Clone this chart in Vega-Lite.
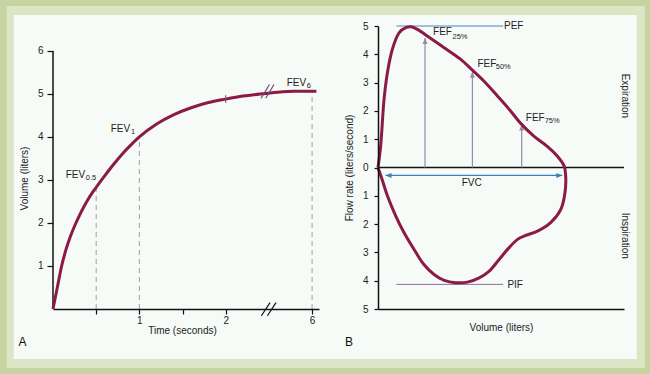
{
  "$schema": "https://vega.github.io/schema/vega-lite/v6.json",
  "background": "#c6d4a2",
  "padding": 6,
  "autosize": {"type": "pad"},
  "spacing": 59,
  "bounds": "flush",
  "config": {
    "view": {"stroke": null},
    "font": "Liberation Sans",
    "axis": {
      "grid": false,
      "domainColor": "#111",
      "tickColor": "#111",
      "domainWidth": 1.5,
      "tickWidth": 1.2,
      "labelFontSize": 10,
      "titleFontSize": 10,
      "titleFontWeight": "normal",
      "labelColor": "#222",
      "titleColor": "#222",
      "labelFlush": false
    }
  },
  "datasets": {
    "frameOuter": [{"x1": -0.536, "x2": 6.852, "y1": -1.372, "y2": 7.045}],
    "frameInner": [{"x1": -0.455, "x2": 6.759, "y1": -1.163, "y2": 6.836}],
    "fev": [
      {"t": 0, "v": 0}, {"t": 0.05, "v": 0.5}, {"t": 0.1, "v": 1.0}, {"t": 0.15, "v": 1.38},
      {"t": 0.2, "v": 1.68}, {"t": 0.25, "v": 1.93}, {"t": 0.3, "v": 2.15}, {"t": 0.35, "v": 2.35},
      {"t": 0.4, "v": 2.53}, {"t": 0.45, "v": 2.69}, {"t": 0.5, "v": 2.83}, {"t": 0.6, "v": 3.1},
      {"t": 0.7, "v": 3.36}, {"t": 0.8, "v": 3.6}, {"t": 0.9, "v": 3.81}, {"t": 1.0, "v": 4.0},
      {"t": 1.2, "v": 4.3}, {"t": 1.4, "v": 4.52}, {"t": 1.6, "v": 4.68}, {"t": 1.8, "v": 4.8},
      {"t": 2.0, "v": 4.88}, {"t": 2.2, "v": 4.95}, {"t": 2.4, "v": 5.0}, {"t": 2.6, "v": 5.04},
      {"t": 2.8, "v": 5.06}, {"t": 3.0, "v": 5.06}, {"t": 3.05, "v": 5.06}
    ],
    "fevDash": [{"t": 0.5, "v": 2.83, "v0": 0}, {"t": 1, "v": 4.0, "v0": 0}, {"t": 3.0, "v": 5.06, "v0": 0}],
    "yAxisA": [{"x": 0, "y1": 0, "y2": 6}],
    "breakAxis": [
      {"x1": 2.413, "x2": 2.513, "y1": -0.156, "y2": 0.147},
      {"x1": 2.483, "x2": 2.582, "y1": -0.156, "y2": 0.147}
    ],
    "breakCurve": [
      {"x1": 2.409, "x2": 2.506, "y1": 4.9, "y2": 5.22},
      {"x1": 2.463, "x2": 2.559, "y1": 4.9, "y2": 5.22}
    ],
    "tickCurve": [{"x": 2, "y1": 4.79, "y2": 4.97}],
    "fevLab": [
      {"t": 0.147, "v": 3.12, "s": "FEV"},
      {"t": 0.668, "v": 4.19, "s": "FEV"},
      {"t": 2.706, "v": 5.25, "s": "FEV"}
    ],
    "fevSub": [
      {"t": 0.379, "v": 3.05, "s": "0.5"},
      {"t": 0.903, "v": 4.12, "s": "1"},
      {"t": 2.938, "v": 5.18, "s": "6"}
    ],
    "panelA": [{"t": -0.354, "v": -0.76, "s": "A"}],
    "loop": [
      {"i": 0, "x": 0, "y": 0}, {"i": 1, "x": 0.07, "y": 0.75}, {"i": 2, "x": 0.16, "y": 2.4},
      {"i": 3, "x": 0.25, "y": 3.35}, {"i": 4, "x": 0.38, "y": 4.17}, {"i": 5, "x": 0.56, "y": 4.76},
      {"i": 6, "x": 0.74, "y": 4.94}, {"i": 7, "x": 0.88, "y": 4.97}, {"i": 8, "x": 1.05, "y": 4.88},
      {"i": 9, "x": 1.25, "y": 4.7}, {"i": 10, "x": 1.58, "y": 4.4}, {"i": 11, "x": 2.02, "y": 3.99},
      {"i": 12, "x": 2.2, "y": 3.82}, {"i": 13, "x": 2.51, "y": 3.44}, {"i": 14, "x": 2.82, "y": 3.05},
      {"i": 15, "x": 3.18, "y": 2.52}, {"i": 16, "x": 3.53, "y": 1.99}, {"i": 17, "x": 3.8, "y": 1.55},
      {"i": 18, "x": 4.15, "y": 1.1}, {"i": 19, "x": 4.5, "y": 0.75}, {"i": 20, "x": 4.77, "y": 0.4},
      {"i": 21, "x": 4.95, "y": 0.05}, {"i": 22, "x": 4.99, "y": -0.3}, {"i": 23, "x": 4.97, "y": -0.9},
      {"i": 24, "x": 4.86, "y": -1.48}, {"i": 25, "x": 4.59, "y": -1.95}, {"i": 26, "x": 4.24, "y": -2.25},
      {"i": 27, "x": 3.93, "y": -2.4}, {"i": 28, "x": 3.71, "y": -2.54}, {"i": 29, "x": 3.48, "y": -2.84},
      {"i": 30, "x": 3.22, "y": -3.25}, {"i": 31, "x": 2.95, "y": -3.67}, {"i": 32, "x": 2.69, "y": -3.9},
      {"i": 33, "x": 2.38, "y": -4.05}, {"i": 34, "x": 2.07, "y": -4.07}, {"i": 35, "x": 1.76, "y": -3.99},
      {"i": 36, "x": 1.49, "y": -3.78}, {"i": 37, "x": 1.22, "y": -3.43}, {"i": 38, "x": 0.96, "y": -2.9},
      {"i": 39, "x": 0.69, "y": -2.3}, {"i": 40, "x": 0.47, "y": -1.71}, {"i": 41, "x": 0.25, "y": -1.0},
      {"i": 42, "x": 0.12, "y": -0.47}, {"i": 43, "x": 0, "y": 0}
    ],
    "pef": [{"x1": 0.49, "x2": 3.33, "y": 5.0}],
    "pif": [{"x1": 0.49, "x2": 3.33, "y": -4.13}],
    "zero": [{"x1": 0, "x2": 6.54, "y": 0}],
    "fefArrows": [{"x": 1.25, "y": 4.58, "y0": 0}, {"x": 2.51, "y": 3.38, "y0": 0}, {"x": 3.82, "y": 1.52, "y0": 0}],
    "fvc": [{"x1": 0.2, "x2": 4.9, "y": -0.28}],
    "fvcHeadL": [{"x": 0.2, "y": -0.28}],
    "fvcHeadR": [{"x": 4.9, "y": -0.28}],
    "bLab": [
      {"x": 3.35, "y": 5.0, "s": "PEF"}, {"x": 3.44, "y": -4.15, "s": "PIF"},
      {"x": 1.463, "y": 4.78, "s": "FEF"}, {"x": 2.644, "y": 3.66, "s": "FEF"}, {"x": 3.93, "y": 1.76, "s": "FEF"}
    ],
    "bSub": [
      {"x": 1.98, "y": 4.6, "s": "25%"}, {"x": 3.13, "y": 3.54, "s": "50%"}, {"x": 4.43, "y": 1.64, "s": "75%"}
    ],
    "bCenter": [{"x": 2.49, "y": -0.56, "s": "FVC"}],
    "bSide": [{"x": 6.56, "y": 2.53, "s": "Expiration"}, {"x": 6.56, "y": -2.41, "s": "Inspiration"}],
    "panelB": [{"x": -0.771, "y": -6.15, "s": "B"}]
  },
  "hconcat": [
    {
      "width": 266,
      "height": 283,
      "layer": [
        {
          "data": {"name": "frameOuter"},
          "mark": {"type": "rect", "color": "#dce6c4"},
          "encoding": {
            "x": {"field": "x1", "type": "quantitative",
              "scale": {"domain": [0, 3.08], "nice": false, "zero": false},
              "axis": {"values": [0.5, 1, 1.5, 2, 3], "zindex": 1,
                "labelExpr": "datum.value == 1 ? '1' : datum.value == 2 ? '2' : datum.value == 3 ? '6' : ''",
                "title": "Time (seconds)", "titleX": 129, "tickSize": 5, "labelPadding": 1, "titlePadding": 0}},
            "x2": {"field": "x2"},
            "y": {"field": "y1", "type": "quantitative",
              "scale": {"domain": [0, 6.58], "nice": false, "zero": false},
              "axis": {"values": [1, 2, 3, 4, 5, 6], "format": "d", "zindex": 1, "domain": false, "title": "Volume (liters)",
                "titleY": 152, "tickSize": 6, "labelPadding": 4, "titlePadding": 8}},
            "y2": {"field": "y2"}
          }
        },
        {
          "data": {"name": "frameInner"},
          "mark": {"type": "rect", "color": "#f6fbf8"},
          "encoding": {
            "x": {"field": "x1", "type": "quantitative"},
            "x2": {"field": "x2"},
            "y": {"field": "y1", "type": "quantitative"},
            "y2": {"field": "y2"}
          }
        },
        {
          "data": {"name": "yAxisA"},
          "mark": {"type": "rule", "color": "#111", "strokeWidth": 1.5},
          "encoding": {
            "x": {"field": "x", "type": "quantitative"},
            "y": {"field": "y1", "type": "quantitative"},
            "y2": {"field": "y2"}
          }
        },
        {
          "data": {"name": "fevDash"},
          "mark": {"type": "rule", "color": "#a89aa2", "strokeWidth": 1, "strokeDash": [5, 4]},
          "encoding": {
            "x": {"field": "t", "type": "quantitative"},
            "y": {"field": "v0", "type": "quantitative"},
            "y2": {"field": "v"}
          }
        },
        {
          "data": {"name": "fev"},
          "mark": {"type": "line", "color": "#8b1a46", "strokeWidth": 3, "interpolate": "monotone"},
          "encoding": {
            "x": {"field": "t", "type": "quantitative"},
            "y": {"field": "v", "type": "quantitative"}
          }
        },
        {
          "data": {"name": "tickCurve"},
          "mark": {"type": "rule", "color": "#6a4a7e", "strokeWidth": 1},
          "encoding": {
            "x": {"field": "x", "type": "quantitative"},
            "y": {"field": "y1", "type": "quantitative"},
            "y2": {"field": "y2"}
          }
        },
        {
          "data": {"name": "breakCurve"},
          "mark": {"type": "rule", "color": "#6a4a7e", "strokeWidth": 1.2},
          "encoding": {
            "x": {"field": "x1", "type": "quantitative"},
            "x2": {"field": "x2"},
            "y": {"field": "y1", "type": "quantitative"},
            "y2": {"field": "y2"}
          }
        },
        {
          "data": {"name": "breakAxis"},
          "mark": {"type": "rule", "color": "#111", "strokeWidth": 1.2},
          "encoding": {
            "x": {"field": "x1", "type": "quantitative"},
            "x2": {"field": "x2"},
            "y": {"field": "y1", "type": "quantitative"},
            "y2": {"field": "y2"}
          }
        },
        {
          "data": {"name": "fevLab"},
          "mark": {"type": "text", "align": "left", "baseline": "middle", "fontSize": 10, "color": "#222"},
          "encoding": {
            "x": {"field": "t", "type": "quantitative"},
            "y": {"field": "v", "type": "quantitative"},
            "text": {"field": "s"}
          }
        },
        {
          "data": {"name": "fevSub"},
          "mark": {"type": "text", "align": "left", "baseline": "middle", "fontSize": 7.5, "color": "#222"},
          "encoding": {
            "x": {"field": "t", "type": "quantitative"},
            "y": {"field": "v", "type": "quantitative"},
            "text": {"field": "s"}
          }
        },
        {
          "data": {"name": "panelA"},
          "mark": {"type": "text", "align": "center", "baseline": "middle", "fontSize": 12, "color": "#111"},
          "encoding": {
            "x": {"field": "t", "type": "quantitative"},
            "y": {"field": "v", "type": "quantitative"},
            "text": {"field": "s"}
          }
        }
      ]
    },
    {
      "width": 246,
      "height": 283,
      "layer": [
        {
          "data": {"name": "zero"},
          "mark": {"type": "rule", "color": "#111", "strokeWidth": 1.5},
          "encoding": {
            "x": {"field": "x1", "type": "quantitative",
              "scale": {"domain": [0, 6.54], "nice": false, "zero": false},
              "axis": {"ticks": false, "labels": false, "title": "Volume (liters)", "titlePadding": 13, "zindex": 1}},
            "x2": {"field": "x2"},
            "y": {"field": "y", "type": "quantitative",
              "scale": {"domain": [-5, 5], "nice": false, "zero": false},
              "axis": {"values": [-5, -4, -3, -2, -1, 0, 1, 2, 3, 4, 5], "tickCount": 12, "format": "d",
                "labelExpr": "replace(datum.label, '−', '')",
                "labelOverlap": false, "zindex": 1,
                "title": "Flow rate (liters/second)", "tickSize": 4, "labelPadding": 6, "titlePadding": 8}}
          }
        },
        {
          "data": {"name": "pef"},
          "mark": {"type": "rule", "color": "#4f87b5", "strokeWidth": 1},
          "encoding": {
            "x": {"field": "x1", "type": "quantitative"},
            "x2": {"field": "x2"},
            "y": {"field": "y", "type": "quantitative"}
          }
        },
        {
          "data": {"name": "pif"},
          "mark": {"type": "rule", "color": "#8e6f9e", "strokeWidth": 1},
          "encoding": {
            "x": {"field": "x1", "type": "quantitative"},
            "x2": {"field": "x2"},
            "y": {"field": "y", "type": "quantitative"}
          }
        },
        {
          "data": {"name": "fefArrows"},
          "mark": {"type": "rule", "color": "#9a88a6", "strokeWidth": 1.2},
          "encoding": {
            "x": {"field": "x", "type": "quantitative"},
            "y": {"field": "y0", "type": "quantitative"},
            "y2": {"field": "y"}
          }
        },
        {
          "data": {"name": "fefArrows"},
          "mark": {"type": "point", "shape": "M0,0L-1,2.4L1,2.4Z", "filled": true, "size": 25, "color": "#9a88a6", "opacity": 1},
          "encoding": {
            "x": {"field": "x", "type": "quantitative"},
            "y": {"field": "y", "type": "quantitative"}
          }
        },
        {
          "data": {"name": "fvc"},
          "mark": {"type": "rule", "color": "#3f7db6", "strokeWidth": 1.2},
          "encoding": {
            "x": {"field": "x1", "type": "quantitative"},
            "x2": {"field": "x2"},
            "y": {"field": "y", "type": "quantitative"}
          }
        },
        {
          "data": {"name": "fvcHeadL"},
          "mark": {"type": "point", "shape": "M0,0L2.4,-1L2.4,1Z", "filled": true, "size": 25, "color": "#3f7db6", "opacity": 1},
          "encoding": {
            "x": {"field": "x", "type": "quantitative"},
            "y": {"field": "y", "type": "quantitative"}
          }
        },
        {
          "data": {"name": "fvcHeadR"},
          "mark": {"type": "point", "shape": "M0,0L-2.4,-1L-2.4,1Z", "filled": true, "size": 25, "color": "#3f7db6", "opacity": 1},
          "encoding": {
            "x": {"field": "x", "type": "quantitative"},
            "y": {"field": "y", "type": "quantitative"}
          }
        },
        {
          "data": {"name": "loop"},
          "mark": {"type": "line", "color": "#8b1a46", "strokeWidth": 3, "interpolate": "catmull-rom"},
          "encoding": {
            "x": {"field": "x", "type": "quantitative"},
            "y": {"field": "y", "type": "quantitative"},
            "order": {"field": "i", "type": "quantitative"}
          }
        },
        {
          "data": {"name": "bLab"},
          "mark": {"type": "text", "align": "left", "baseline": "middle", "fontSize": 10, "color": "#222"},
          "encoding": {
            "x": {"field": "x", "type": "quantitative"},
            "y": {"field": "y", "type": "quantitative"},
            "text": {"field": "s"}
          }
        },
        {
          "data": {"name": "bSub"},
          "mark": {"type": "text", "align": "left", "baseline": "middle", "fontSize": 7.5, "color": "#222"},
          "encoding": {
            "x": {"field": "x", "type": "quantitative"},
            "y": {"field": "y", "type": "quantitative"},
            "text": {"field": "s"}
          }
        },
        {
          "data": {"name": "bCenter"},
          "mark": {"type": "text", "align": "center", "baseline": "middle", "fontSize": 10, "color": "#222"},
          "encoding": {
            "x": {"field": "x", "type": "quantitative"},
            "y": {"field": "y", "type": "quantitative"},
            "text": {"field": "s"}
          }
        },
        {
          "data": {"name": "bSide"},
          "mark": {"type": "text", "align": "center", "baseline": "middle", "fontSize": 10, "angle": 90, "color": "#222"},
          "encoding": {
            "x": {"field": "x", "type": "quantitative"},
            "y": {"field": "y", "type": "quantitative"},
            "text": {"field": "s"}
          }
        },
        {
          "data": {"name": "panelB"},
          "mark": {"type": "text", "align": "center", "baseline": "middle", "fontSize": 12, "color": "#111"},
          "encoding": {
            "x": {"field": "x", "type": "quantitative"},
            "y": {"field": "y", "type": "quantitative"},
            "text": {"field": "s"}
          }
        }
      ]
    }
  ]
}
